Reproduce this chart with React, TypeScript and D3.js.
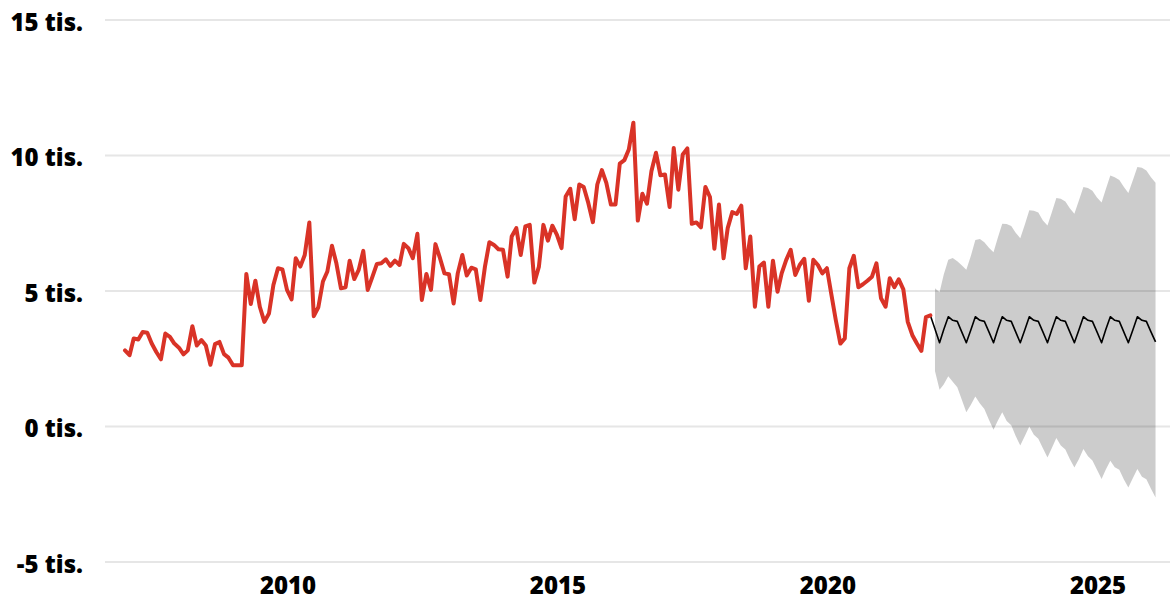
import * as d3 from "d3";

// monthly values, Jan 2007 .. Dec 2021 (thousands)
const actual = [
  2.81, 2.63, 3.25, 3.21, 3.49, 3.46, 3.06, 2.75, 2.48, 3.43, 3.31, 3.06,
  2.91, 2.66, 2.81, 3.7, 2.99, 3.19, 2.99, 2.28, 3.04, 3.12, 2.67, 2.54,
  2.26, 2.26, 2.26, 5.63, 4.52, 5.38, 4.42, 3.86, 4.17, 5.22, 5.84, 5.8,
  5.04, 4.69, 6.21, 5.9, 6.33, 7.53, 4.07, 4.4, 5.35, 5.72, 6.67, 6.02,
  5.1, 5.14, 6.12, 5.44, 5.78, 6.48, 5.04, 5.51, 6.0, 6.02, 6.17, 5.93,
  6.12, 5.96, 6.74, 6.58, 6.21, 7.11, 4.67, 5.63, 5.04, 6.73, 6.21, 5.65,
  5.62, 4.54, 5.65, 6.33, 5.57, 5.86, 5.8, 4.67, 5.9, 6.8, 6.7, 6.54,
  6.52, 5.53, 7.01, 7.32, 6.33, 7.38, 7.44, 5.31, 5.9, 7.44, 6.86, 7.41,
  7.07, 6.58, 8.49, 8.77, 7.65, 8.93, 8.84, 8.25, 7.54, 8.93, 9.46, 8.99,
  8.19, 8.19, 9.7, 9.83, 10.22, 11.21, 7.6, 8.59, 8.22, 9.42, 10.1, 9.27,
  9.3, 8.1, 10.28, 8.74, 10.04, 10.26, 7.48, 7.53, 7.35, 8.84, 8.47, 6.56,
  8.19, 6.21, 7.32, 7.91, 7.84, 8.15, 5.84, 7.01, 4.42, 5.9, 6.05, 4.42,
  6.12, 4.97, 5.65, 6.15, 6.52, 5.59, 5.96, 6.19, 4.64, 6.15, 5.96, 5.65,
  5.84, 4.85, 3.93, 3.06, 3.25, 5.84, 6.3, 5.14, 5.25, 5.38, 5.53, 6.02,
  4.73, 4.42, 5.47, 5.14, 5.43, 5.06, 3.86, 3.37, 3.06, 2.79, 4.04, 4.1,
];

// forecast, Jan 2022 .. Feb 2026
const forecastMean = [
  3.6, 3.09, 3.57, 4.05, 3.92, 3.88, 3.49, 3.09, 3.57, 4.05, 3.92, 3.88,
  3.49, 3.09, 3.57, 4.05, 3.92, 3.88, 3.49, 3.09, 3.57, 4.05, 3.92, 3.88,
  3.49, 3.09, 3.57, 4.05, 3.92, 3.88, 3.49, 3.09, 3.57, 4.05, 3.92, 3.88,
  3.49, 3.09, 3.57, 4.05, 3.92, 3.88, 3.49, 3.09, 3.57, 4.05, 3.92, 3.88,
  3.49, 3.12,
];
const forecastUpper = [
  5.1, 4.95, 5.6, 6.15, 6.22, 6.1, 5.95, 5.78, 6.3, 6.88, 6.92, 6.8,
  6.6, 6.43, 6.95, 7.48, 7.47, 7.4, 7.15, 6.95, 7.45, 7.98, 7.96, 7.9,
  7.6, 7.42, 7.9, 8.43, 8.4, 8.3, 8.05, 7.85, 8.35, 8.84, 8.8, 8.7,
  8.45, 8.27, 8.75, 9.26, 9.2, 9.1, 8.85, 8.62, 9.1, 9.58, 9.55, 9.45,
  9.2, 8.99,
];
const forecastLower = [
  2.05, 1.36, 1.55, 1.85, 1.65, 1.45, 1.0, 0.53, 0.8, 1.11, 0.85, 0.65,
  0.25, -0.12, 0.2, 0.53, 0.2, 0.05, -0.35, -0.7, -0.35, 0.0, -0.3, -0.45,
  -0.8, -1.14, -0.8, -0.42, -0.7, -0.85, -1.2, -1.51, -1.2, -0.83, -1.1, -1.25,
  -1.6, -1.94, -1.6, -1.26, -1.5, -1.6, -1.95, -2.25, -1.9, -1.57, -1.85, -1.95,
  -2.3, -2.62,
];

const yTicks = [-5, 0, 5, 10, 15];
const xTicks = [2010, 2015, 2020, 2025];

const W = 1170;
const H = 602;
const FONT = "'Open Sans', 'Noto Sans', sans-serif";

type Pt = { date: Date; v: number };

export default function App() {
  const x = d3
    .scaleTime()
    .domain([new Date(2010, 0, 1), new Date(2025, 0, 1)])
    .range([287, 1097]);
  const y = d3.scaleLinear().domain([-5, 15]).range([562, 20]);

  const actualPts: Pt[] = actual.map((v, i) => ({ date: new Date(2007, i, 1), v }));
  const last = actualPts[actualPts.length - 1];
  const meanPts: Pt[] = [last].concat(
    forecastMean.map((v, i) => ({ date: new Date(2022, i, 1), v }))
  );
  const band = forecastUpper.map((u, i) => ({
    date: new Date(2022, i, 1),
    hi: u,
    lo: forecastLower[i],
  }));

  const line = d3
    .line<Pt>()
    .x((d) => x(d.date))
    .y((d) => y(d.v));
  const area = d3
    .area<{ date: Date; hi: number; lo: number }>()
    .x((d) => x(d.date))
    .y0((d) => y(d.lo))
    .y1((d) => y(d.hi));

  return (
    <svg
      width={W}
      height={H}
      style={{ position: "absolute", left: 0, top: 0, background: "white" }}
    >
      {yTicks.map((t) => (
        <g key={t}>
          <line x1={105} x2={W} y1={y(t)} y2={y(t)} stroke="#e6e6e6" strokeWidth={2} />
          <text
            x={83}
            y={y(t) + 1}
            textAnchor="end"
            dominantBaseline="central"
            fontFamily={FONT}
            fontWeight={800}
            fontSize={24}
            fill="#000"
          >
            {t} tis.
          </text>
        </g>
      ))}
      {xTicks.map((t) => (
        <text
          key={t}
          x={x(new Date(t, 0, 1)) + 1}
          y={584}
          textAnchor="middle"
          dominantBaseline="central"
          fontFamily={FONT}
          fontWeight={800}
          fontSize={24}
          fill="#000"
        >
          {t}
        </text>
      ))}
      <path d={area(band) ?? ""} fill="#000" fillOpacity={0.2} />
      <path d={line(meanPts) ?? ""} fill="none" stroke="#000" strokeWidth={1.6} strokeLinejoin="round" />
      <path
        d={line(actualPts) ?? ""}
        fill="none"
        stroke="#d93327"
        strokeWidth={4}
        strokeLinejoin="round"
        strokeLinecap="round"
      />
    </svg>
  );
}
